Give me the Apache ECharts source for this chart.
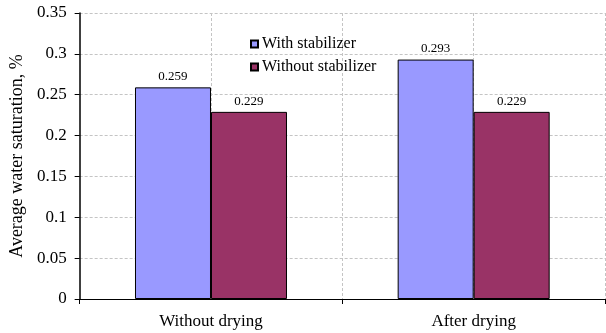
<!DOCTYPE html>
<html>
<head>
<meta charset="utf-8">
<script src="https://cdn.jsdelivr.net/npm/echarts@6/dist/echarts.min.js"></script>
<style>
  html, body { margin: 0; padding: 0; background: #fff; }
  #bar { width: 606px; height: 333px; }
</style>
</head>
<body>
<div id="bar"></div>
<script>
let categories = ['Without drying', 'After drying']
let seriesNames = ['With stabilizer', 'Without stabilizer']
let withStabilizer = [0.259, 0.293]
let withoutStabilizer = [0.229, 0.229]

let chart = echarts.init(document.getElementById('bar'))
let font = 'Liberation Serif'

chart.setOption({
  animation: false,
  grid: { left: 76, right: 1, top: 13, bottom: 34 },
  legend: {
    orient: 'vertical',
    left: 245,
    top: 31,
    itemWidth: 7,
    itemHeight: 7,
    itemGap: 7,
    icon: 'rect',
    data: seriesNames,
    textStyle: { fontFamily: font, fontSize: 16, color: '#000', padding: [0, 0, 0, -1] }
  },
  xAxis: [
    {
      type: 'category',
      data: categories,
      axisLine: { lineStyle: { color: '#000', width: 1 } },
      axisTick: { show: true, length: 5, lineStyle: { color: '#000' } },
      axisLabel: { fontFamily: font, fontSize: 17, color: '#000', margin: 14 },
      splitLine: { show: false }
    },
    {
      // helper axis only for the vertical dashed gridlines
      type: 'category',
      data: ['', '', '', ''],
      position: 'bottom',
      axisLine: { show: false },
      axisTick: { show: false },
      axisLabel: { show: false },
      splitLine: {
        show: true,
        interval: function (index) { return index > 0 && index < 4 },
        lineStyle: { color: '#c4c4c4', type: [3, 2] }
      }
    }
  ],
  yAxis: {
    type: 'value',
    min: 0,
    max: 0.35,
    interval: 0.05,
    name: 'Average water saturation, %',
    nameLocation: 'middle',
    nameGap: 51,
    nameRotate: 90,
    nameTextStyle: { fontFamily: font, fontSize: 18, color: '#000' },
    axisLine: { show: true, lineStyle: { color: '#000', width: 1.5 } },
    axisTick: { show: true, length: 5, lineStyle: { color: '#000' } },
    axisLabel: { fontFamily: font, fontSize: 17, color: '#000', margin: 13 },
    splitLine: { lineStyle: { color: '#c4c4c4', type: [3, 2] } }
  },
  series: [
    {
      name: seriesNames[0],
      type: 'bar',
      data: withStabilizer,
      barWidth: 76,
      barGap: 0,
      itemStyle: { color: '#9999ff', borderColor: '#000', borderWidth: 1 },
      label: { show: true, position: 'top', distance: 4, fontFamily: font, fontSize: 13, color: '#000' }
    },
    {
      name: seriesNames[1],
      type: 'bar',
      data: withoutStabilizer,
      barWidth: 76,
      barGap: 0,
      itemStyle: { color: '#993366', borderColor: '#000', borderWidth: 1 },
      label: { show: true, position: 'top', distance: 4, fontFamily: font, fontSize: 13, color: '#000' }
    }
  ]
})
</script>
</body>
</html>
